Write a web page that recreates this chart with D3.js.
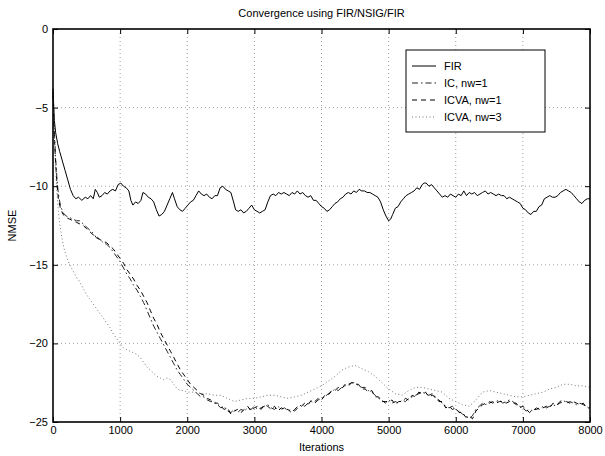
<!DOCTYPE html>
<html>
<head>
<meta charset="utf-8">
<script src="https://cdnjs.cloudflare.com/ajax/libs/d3/7.8.5/d3.min.js"></script>
<style>
  body { margin: 0; background: #fff; }
  text { font-family: "Liberation Sans", Arial, sans-serif; }
</style>
</head>
<body>
<svg id="chart" width="605" height="456"></svg>
<script>
// tick values
const xTicks = [0, 1000, 2000, 3000, 4000, 5000, 6000, 7000, 8000];
const yTicks = [0, -5, -10, -15, -20, -25];

// series values [iteration, NMSE dB]
const firSeries = [[0,-3.8],[20,-5.8],[40,-6.6],[70,-7.3],[100,-7.8],[140,-8.4],[180,-9.0],[220,-9.6],[260,-10.2],[300,-10.6],[340,-10.8],[380,-10.7],[430,-10.9],[480,-10.7],[520,-10.8],[560,-10.6],[600,-10.8],[630,-10.2],[660,-10.4],[690,-10.7],[730,-10.6],[770,-10.4],[810,-10.5],[850,-10.3],[890,-10.2],[930,-10.3],[970,-9.9],[1010,-9.8],[1050,-10.0],[1090,-10.1],[1130,-10.3],[1160,-10.9],[1190,-11.2],[1230,-11.0],[1270,-11.1],[1310,-10.9],[1340,-10.4],[1380,-10.5],[1420,-10.7],[1460,-10.8],[1500,-11.0],[1540,-11.5],[1580,-11.9],[1620,-11.8],[1660,-11.6],[1700,-11.2],[1740,-10.8],[1780,-10.4],[1810,-10.8],[1850,-11.3],[1890,-11.5],[1930,-11.6],[1970,-11.4],[2010,-11.2],[2050,-11.0],[2090,-10.9],[2130,-10.6],[2170,-10.3],[2210,-10.5],[2250,-10.6],[2290,-10.5],[2330,-10.7],[2370,-10.8],[2410,-10.6],[2450,-10.6],[2490,-10.1],[2530,-10.0],[2570,-10.2],[2610,-10.3],[2650,-10.4],[2690,-11.0],[2720,-11.5],[2760,-11.6],[2800,-11.5],[2840,-11.7],[2880,-11.6],[2920,-11.4],[2960,-11.2],[3000,-11.5],[3040,-11.6],[3080,-11.7],[3120,-11.6],[3160,-11.5],[3200,-11.0],[3240,-10.6],[3280,-10.5],[3320,-10.6],[3360,-10.4],[3400,-10.5],[3440,-10.4],[3480,-10.5],[3520,-10.6],[3560,-10.4],[3600,-10.5],[3640,-10.3],[3680,-10.5],[3720,-10.4],[3760,-10.6],[3800,-10.7],[3840,-10.6],[3880,-10.9],[3920,-10.9],[3960,-11.1],[4000,-11.3],[4040,-11.4],[4080,-11.6],[4120,-11.5],[4160,-11.3],[4200,-11.1],[4240,-11.0],[4280,-10.8],[4320,-10.7],[4360,-10.5],[4400,-10.4],[4440,-10.5],[4480,-10.3],[4520,-10.4],[4560,-10.2],[4600,-10.3],[4640,-10.3],[4680,-10.4],[4720,-10.4],[4760,-10.5],[4800,-10.6],[4840,-10.7],[4880,-11.0],[4920,-11.5],[4960,-11.9],[5000,-12.2],[5030,-12.1],[5060,-11.8],[5100,-11.4],[5140,-11.3],[5180,-11.0],[5220,-10.8],[5260,-10.6],[5300,-10.5],[5340,-10.4],[5380,-10.3],[5420,-10.1],[5460,-10.2],[5500,-9.9],[5530,-9.8],[5560,-9.8],[5600,-10.0],[5640,-9.9],[5680,-10.1],[5720,-10.3],[5760,-10.5],[5800,-10.7],[5840,-10.6],[5880,-10.7],[5920,-10.5],[5960,-10.6],[6000,-10.7],[6040,-10.5],[6080,-10.6],[6120,-10.3],[6160,-10.6],[6200,-10.4],[6240,-10.5],[6280,-10.4],[6320,-10.6],[6360,-10.5],[6400,-10.4],[6440,-10.3],[6480,-10.5],[6520,-10.4],[6560,-10.5],[6600,-10.6],[6640,-10.5],[6680,-10.6],[6720,-10.6],[6760,-10.8],[6800,-10.7],[6840,-10.8],[6880,-10.9],[6920,-11.0],[6960,-11.1],[7000,-11.4],[7040,-11.5],[7080,-11.7],[7120,-11.8],[7160,-11.6],[7200,-11.6],[7240,-11.3],[7280,-11.2],[7320,-10.8],[7360,-10.7],[7400,-10.6],[7440,-10.7],[7480,-10.7],[7520,-10.6],[7560,-10.4],[7600,-10.3],[7640,-10.2],[7680,-10.3],[7720,-10.4],[7760,-10.6],[7800,-10.8],[7840,-11.0],[7880,-11.1],[7920,-10.9],[7960,-10.8],[8000,-10.8]];

const icSeries = [[0,-4.0],[20,-6.5],[40,-8.3],[60,-9.6],[80,-10.5],[110,-11.2],[150,-11.7],[200,-11.9],[250,-12.0],[300,-12.1],[350,-12.2],[400,-12.2],[450,-12.4],[500,-12.6],[550,-12.8],[600,-13.0],[650,-13.3],[700,-13.4],[750,-13.6],[800,-13.7],[850,-13.9],[900,-14.2],[950,-14.5],[1000,-14.8],[1050,-15.2],[1100,-15.6],[1150,-15.9],[1200,-16.3],[1250,-16.6],[1300,-17.0],[1350,-17.4],[1400,-17.9],[1450,-18.4],[1500,-18.9],[1550,-19.3],[1600,-19.7],[1650,-20.1],[1700,-20.5],[1750,-20.9],[1800,-21.3],[1850,-21.7],[1900,-22.0],[1950,-22.3],[2000,-22.6],[2050,-22.8],[2100,-23.0],[2150,-23.2],[2200,-23.4],[2250,-23.4],[2300,-23.6],[2350,-23.7],[2400,-23.7],[2450,-23.9],[2500,-24.1],[2550,-24.0],[2600,-24.3],[2650,-24.4],[2700,-24.2],[2750,-24.4],[2800,-24.2],[2850,-24.3],[2900,-24.1],[2950,-24.2],[3000,-24.0],[3050,-24.2],[3100,-24.1],[3150,-24.0],[3200,-23.9],[3250,-24.1],[3300,-24.2],[3350,-24.0],[3400,-24.2],[3450,-24.1],[3500,-24.3],[3550,-24.2],[3600,-24.3],[3650,-24.1],[3700,-23.9],[3750,-24.0],[3800,-23.8],[3850,-23.7],[3900,-23.8],[3950,-23.6],[4000,-23.5],[4050,-23.4],[4100,-23.2],[4150,-23.1],[4200,-22.9],[4250,-23.0],[4300,-22.8],[4350,-22.7],[4400,-22.6],[4450,-22.5],[4500,-22.5],[4550,-22.7],[4600,-22.8],[4650,-22.8],[4700,-23.0],[4750,-23.1],[4800,-23.3],[4850,-23.5],[4900,-23.6],[4950,-23.8],[5000,-23.6],[5050,-23.8],[5100,-23.7],[5150,-23.8],[5200,-23.6],[5250,-23.7],[5300,-23.5],[5350,-23.4],[5400,-23.3],[5450,-23.2],[5500,-23.1],[5550,-23.2],[5600,-23.3],[5650,-23.2],[5700,-23.5],[5750,-23.6],[5800,-23.8],[5850,-24.0],[5900,-24.1],[5950,-24.0],[6000,-24.2],[6050,-24.3],[6100,-24.5],[6150,-24.6],[6200,-24.8],[6250,-24.6],[6300,-24.2],[6350,-24.0],[6400,-23.8],[6450,-23.9],[6500,-23.7],[6550,-23.8],[6600,-23.7],[6650,-23.6],[6700,-23.8],[6750,-23.7],[6800,-23.6],[6850,-23.7],[6900,-23.9],[6950,-24.0],[7000,-24.1],[7050,-24.3],[7100,-24.2],[7150,-24.3],[7200,-24.1],[7250,-24.2],[7300,-24.0],[7350,-24.1],[7400,-24.0],[7450,-23.9],[7500,-24.0],[7550,-23.7],[7600,-23.6],[7650,-23.8],[7700,-23.7],[7750,-23.8],[7800,-23.9],[7850,-23.8],[7900,-23.9],[7950,-24.0],[8000,-24.2]];

const icva1Series = [[0,-4.2],[20,-6.8],[40,-8.6],[60,-9.9],[80,-10.8],[110,-11.4],[150,-11.8],[200,-12.0],[250,-12.1],[300,-12.2],[350,-12.3],[400,-12.4],[450,-12.5],[500,-12.7],[550,-12.9],[600,-13.1],[650,-13.2],[700,-13.4],[750,-13.5],[800,-13.6],[850,-13.8],[900,-14.0],[950,-14.3],[1000,-14.6],[1050,-14.9],[1100,-15.3],[1150,-15.6],[1200,-15.9],[1250,-16.3],[1300,-16.6],[1350,-17.0],[1400,-17.4],[1450,-17.9],[1500,-18.4],[1550,-18.8],[1600,-19.3],[1650,-19.7],[1700,-20.1],[1750,-20.5],[1800,-20.9],[1850,-21.3],[1900,-21.7],[1950,-22.0],[2000,-22.3],[2050,-22.6],[2100,-22.8],[2150,-23.0],[2200,-23.2],[2250,-23.3],[2300,-23.5],[2350,-23.6],[2400,-23.8],[2450,-23.8],[2500,-24.0],[2550,-24.2],[2600,-24.1],[2650,-24.5],[2700,-24.3],[2750,-24.2],[2800,-24.4],[2850,-24.2],[2900,-24.0],[2950,-24.3],[3000,-24.1],[3050,-24.0],[3100,-24.2],[3150,-23.9],[3200,-24.0],[3250,-24.2],[3300,-24.0],[3350,-24.3],[3400,-24.1],[3450,-24.2],[3500,-24.2],[3550,-24.4],[3600,-24.2],[3650,-24.0],[3700,-24.0],[3750,-23.8],[3800,-23.9],[3850,-23.6],[3900,-23.7],[3950,-23.5],[4000,-23.6],[4050,-23.3],[4100,-23.3],[4150,-23.0],[4200,-23.0],[4250,-22.8],[4300,-22.9],[4350,-22.6],[4400,-22.7],[4450,-22.5],[4500,-22.6],[4550,-22.6],[4600,-22.9],[4650,-22.9],[4700,-23.1],[4750,-23.0],[4800,-23.4],[4850,-23.4],[4900,-23.7],[4950,-23.7],[5000,-23.7],[5050,-23.6],[5100,-23.9],[5150,-23.7],[5200,-23.7],[5250,-23.5],[5300,-23.6],[5350,-23.3],[5400,-23.4],[5450,-23.1],[5500,-23.2],[5550,-23.1],[5600,-23.4],[5650,-23.3],[5700,-23.4],[5750,-23.7],[5800,-23.7],[5850,-24.1],[5900,-24.0],[5950,-24.2],[6000,-24.1],[6050,-24.4],[6100,-24.4],[6150,-24.7],[6200,-24.6],[6250,-24.8],[6300,-24.3],[6350,-24.1],[6400,-23.9],[6450,-23.8],[6500,-23.8],[6550,-23.7],[6600,-23.8],[6650,-23.7],[6700,-23.7],[6750,-23.8],[6800,-23.7],[6850,-23.8],[6900,-23.8],[6950,-24.1],[7000,-24.0],[7050,-24.2],[7100,-24.4],[7150,-24.2],[7200,-24.2],[7250,-24.1],[7300,-24.1],[7350,-24.0],[7400,-24.1],[7450,-23.8],[7500,-23.9],[7550,-23.8],[7600,-23.7],[7650,-23.7],[7700,-23.8],[7750,-23.7],[7800,-23.8],[7850,-23.9],[7900,-23.8],[7950,-24.1],[8000,-24.1]];

const icva3Series = [[0,-4.0],[20,-7.0],[40,-9.0],[60,-10.5],[80,-11.6],[100,-12.4],[130,-13.2],[160,-13.9],[200,-14.5],[250,-15.0],[300,-15.4],[350,-15.8],[400,-16.1],[450,-16.5],[500,-16.9],[550,-17.2],[600,-17.5],[650,-17.8],[700,-18.1],[750,-18.4],[800,-18.7],[850,-19.0],[900,-19.4],[950,-19.7],[1000,-20.0],[1050,-20.3],[1100,-20.4],[1150,-20.5],[1200,-20.6],[1250,-20.7],[1300,-20.9],[1350,-21.2],[1400,-21.5],[1450,-21.7],[1500,-21.9],[1550,-22.1],[1600,-22.2],[1650,-22.3],[1700,-22.2],[1750,-22.3],[1800,-22.6],[1850,-22.9],[1900,-23.0],[1950,-23.0],[2000,-23.1],[2100,-23.1],[2200,-23.2],[2300,-23.2],[2400,-23.3],[2500,-23.3],[2600,-23.5],[2700,-23.7],[2800,-23.6],[2900,-23.5],[3000,-23.5],[3100,-23.4],[3200,-23.3],[3300,-23.3],[3400,-23.4],[3500,-23.5],[3600,-23.4],[3700,-23.3],[3800,-23.1],[3900,-22.9],[4000,-22.7],[4100,-22.4],[4200,-22.1],[4300,-21.7],[4400,-21.5],[4500,-21.4],[4600,-21.6],[4700,-21.8],[4800,-22.1],[4900,-22.5],[5000,-22.9],[5100,-23.2],[5200,-23.3],[5300,-23.0],[5400,-22.8],[5500,-22.8],[5600,-22.9],[5700,-23.0],[5800,-23.1],[5900,-23.5],[6000,-23.7],[6100,-23.9],[6200,-24.0],[6300,-23.6],[6400,-23.1],[6500,-23.0],[6600,-23.1],[6700,-23.2],[6800,-23.3],[6900,-23.4],[7000,-23.4],[7100,-23.3],[7200,-23.2],[7300,-23.1],[7400,-22.9],[7500,-22.8],[7600,-22.6],[7700,-22.6],[7800,-22.7],[7900,-22.7],[8000,-22.8]];

const seriesNames = ["FIR", "IC, nw=1", "ICVA, nw=1", "ICVA, nw=3"];

const margin = { left: 53, right: 15, top: 29, bottom: 34 };
const width = 605, height = 456;

const svg = d3.select("#chart");

const x = d3.scaleLinear().domain([0, 8000]).range([margin.left, width - margin.right]);
const y = d3.scaleLinear().domain([-25, 0]).range([height - margin.bottom, margin.top]);

const styles = [
  { stroke: "#000", dash: null, width: 1 },
  { stroke: "#222", dash: "6,3,1.5,3", width: 1 },
  { stroke: "#000", dash: "5,4", width: 1 },
  { stroke: "#777", dash: "1,2.5", width: 1 },
];

// grid
const grid = svg.append("g").attr("class", "grid");
grid.selectAll("line.gx")
  .data(xTicks.slice(1, -1))
  .join("line")
  .attr("x1", (d) => x(d)).attr("x2", (d) => x(d))
  .attr("y1", y(0)).attr("y2", y(-25));
grid.selectAll("line.gy")
  .data(yTicks.slice(1, -1))
  .join("line")
  .attr("class", "gy")
  .attr("x1", x(0)).attr("x2", x(8000))
  .attr("y1", (d) => y(d)).attr("y2", (d) => y(d));
grid.selectAll("line")
  .attr("stroke", "#000")
  .attr("stroke-opacity", 0.55)
  .attr("stroke-width", 0.7)
  .attr("stroke-dasharray", "1,3");

// series
const line = d3.line().x((d) => x(d[0])).y((d) => y(d[1]));
const allSeries = [firSeries, icSeries, icva1Series, icva3Series];
svg.append("g")
  .selectAll("path")
  .data(allSeries)
  .join("path")
  .attr("d", line)
  .attr("fill", "none")
  .attr("stroke", (d, i) => styles[i].stroke)
  .attr("stroke-width", (d, i) => styles[i].width)
  .attr("stroke-dasharray", (d, i) => styles[i].dash)
  .attr("stroke-linejoin", "round");

// axes (MATLAB box, ticks inward)
function styleAxis(g) {
  g.select(".domain").remove();
  g.selectAll(".tick line").attr("stroke", "#000").attr("stroke-width", 1);
  g.selectAll(".tick text").attr("font-size", 11).attr("fill", "#000");
}
svg.append("g")
  .attr("transform", `translate(0,${y(-25)})`)
  .call(d3.axisBottom(x).tickValues(xTicks).tickSize(-5).tickPadding(4).tickFormat(d3.format("d")))
  .call(styleAxis);
svg.append("g")
  .attr("transform", `translate(0,${y(0)})`)
  .call(d3.axisTop(x).tickValues(xTicks).tickSize(-5).tickFormat(""))
  .call(styleAxis);
svg.append("g")
  .attr("transform", `translate(${x(0)},0)`)
  .call(d3.axisLeft(y).tickValues(yTicks).tickSize(-5).tickPadding(5))
  .call(styleAxis);
svg.append("g")
  .attr("transform", `translate(${x(8000)},0)`)
  .call(d3.axisRight(y).tickValues(yTicks).tickSize(-5).tickFormat(""))
  .call(styleAxis);

svg.append("rect")
  .attr("x", x(0)).attr("y", y(0))
  .attr("width", x(8000) - x(0)).attr("height", y(-25) - y(0))
  .attr("fill", "none").attr("stroke", "#000").attr("stroke-width", 1.6);

// labels
svg.append("text")
  .attr("x", (x(0) + x(8000)) / 2).attr("y", 17)
  .attr("text-anchor", "middle").attr("font-size", 11)
  .text("Convergence using FIR/NSIG/FIR");
svg.append("text")
  .attr("x", (x(0) + x(8000)) / 2).attr("y", 451)
  .attr("text-anchor", "middle").attr("font-size", 11)
  .text("Iterations");
svg.append("text")
  .attr("transform", `translate(16,${(y(0) + y(-25)) / 2}) rotate(-90)`)
  .attr("text-anchor", "middle").attr("font-size", 11)
  .text("NMSE");

// legend
const legend = svg.append("g").attr("transform", "translate(406,50)");
legend.append("rect")
  .attr("width", 139).attr("height", 82)
  .attr("fill", "#fff").attr("stroke", "#000").attr("stroke-width", 1);
const items = legend.selectAll("g.item")
  .data(seriesNames)
  .join("g")
  .attr("class", "item")
  .attr("transform", (d, i) => `translate(0,${16 + i * 17})`);
items.append("line")
  .attr("x1", 6).attr("x2", 30).attr("y1", 0).attr("y2", 0)
  .attr("stroke", (d, i) => styles[i].stroke)
  .attr("stroke-width", 1)
  .attr("stroke-dasharray", (d, i) => styles[i].dash);
items.append("text")
  .attr("x", 38).attr("y", 4)
  .attr("font-size", 11)
  .text((d) => d);
</script>
</body>
</html>
